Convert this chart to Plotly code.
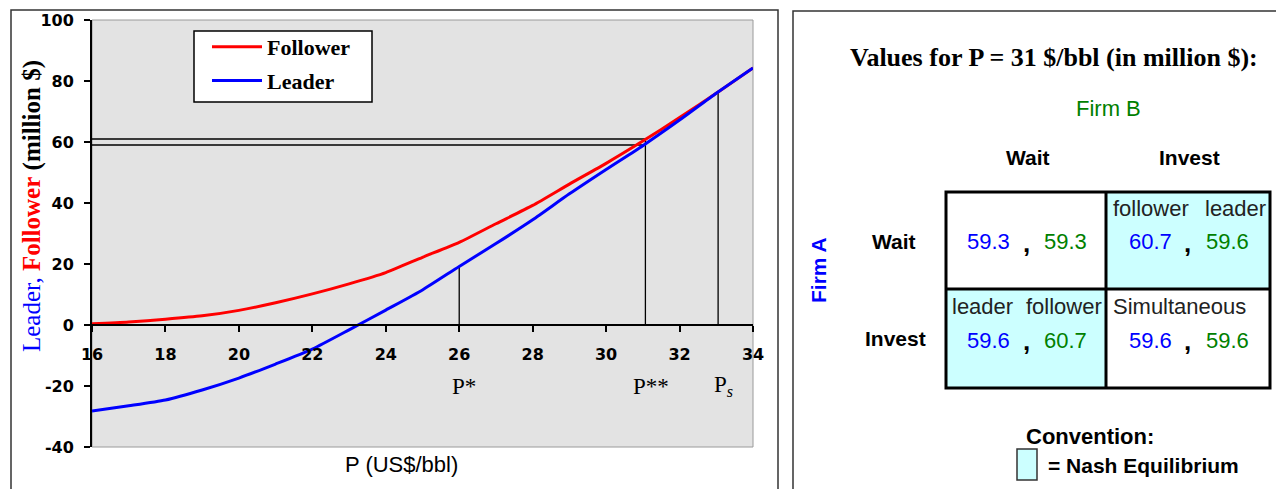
import plotly.graph_objects as go

# ---------------- data ----------------
price = [16, 17, 18, 19, 20, 21, 22, 23, 24, 25, 26, 27, 28, 29, 30, 31, 32, 33, 34]
follower = [0.4, 1.0, 1.9, 3.0, 4.8, 7.3, 10.2, 13.5, 17.2, 22.2, 27.1, 33.2, 39.2,
            46.2, 53.0, 60.3, 68.0, 76.0, 84.3]
leader = [-28.2, -26.5, -24.6, -21.3, -17.4, -12.8, -7.9, -1.6, 4.9, 11.5, 19.2, 26.7,
          34.5, 43.0, 51.0, 58.8, 67.2, 76.0, 84.3]

marker_names = ["P*", "P**", "P<sub><i>s</i></sub>"]
marker_prices = [26.0, 31.07, 33.05]
marker_tops = [19.3, 61.0, 76.2]
hline_values = [61.0, 59.0]

x_ticks = [16, 18, 20, 22, 24, 26, 28, 30, 32, 34]
y_ticks = [-40, -20, 0, 20, 40, 60, 80, 100]

table_values = {
    ("Wait", "Wait"): (59.3, 59.3),
    ("Wait", "Invest"): (60.7, 59.6),
    ("Invest", "Wait"): (59.6, 60.7),
    ("Invest", "Invest"): (59.6, 59.6),
}

# ---------------- geometry helpers ----------------
W, H = 1276, 489
def px(x):
    return x / W
def py(y):
    return 1 - y / H

x_dom = [px(92), px(753)]
y_dom = [py(447), py(20)]
y_rng = [-40, 100]
zero_pos = y_dom[0] + (y_dom[1] - y_dom[0]) * (0 - y_rng[0]) / (y_rng[1] - y_rng[0])

SERIF = "Liberation Serif"
SANS = "Liberation Sans"
BLUE = "#0000ff"
GREEN = "#008000"
RED = "#ff0000"
TICKFONT = dict(family="DejaVu Sans", size=16, color="black", weight="bold")

fig = go.Figure()

# reference lines
for v in hline_values:
    fig.add_trace(go.Scatter(x=[price[0], marker_prices[1]], y=[v, v], mode="lines",
                             line=dict(color="black", width=1.5), showlegend=False,
                             hoverinfo="skip"))
for xp, top in zip(marker_prices, marker_tops):
    fig.add_trace(go.Scatter(x=[xp, xp], y=[0, top], mode="lines",
                             line=dict(color="black", width=1.3), showlegend=False,
                             hoverinfo="skip"))

fig.add_trace(go.Scatter(x=price, y=follower, mode="lines", name="<b>Follower</b>",
                         line=dict(color=RED, width=3, shape="spline", smoothing=0.6),
                         legendgroup="f"))
fig.add_trace(go.Scatter(x=price, y=leader, mode="lines", name="<b>Leader</b>",
                         line=dict(color=BLUE, width=3, shape="spline", smoothing=0.6),
                         legendgroup="l"))

shapes = []
annotations = []

# outer frames
shapes.append(dict(type="rect", xref="paper", yref="paper", x0=px(11), x1=px(778),
                   y0=py(500), y1=py(10), line=dict(color="#333333", width=1.5)))
shapes.append(dict(type="rect", xref="paper", yref="paper", x0=px(793), x1=px(1285),
                   y0=py(500), y1=py(11), line=dict(color="#333333", width=1.5)))
# plot area border
shapes.append(dict(type="rect", xref="paper", yref="paper", x0=x_dom[0], x1=x_dom[1],
                   y0=y_dom[0], y1=y_dom[1], line=dict(color="#9a9a9a", width=1),
                   layer="below"))
# legend box
shapes.append(dict(type="rect", xref="paper", yref="paper", x0=px(194), x1=px(372),
                   y0=py(102), y1=py(31), fillcolor="white",
                   line=dict(color="black", width=1.5), layer="above"))

# y axis title (multi-coloured)
annotations.append(dict(
    xref="paper", yref="paper", x=px(32), y=py(206), textangle=-90, showarrow=False,
    xanchor="center", yanchor="middle",
    text=("<span style='color:#0000ff'>Leader,</span> "
          "<b><span style='color:#ff0000'>Follower</span></b> <b>(million $)</b>"),
    font=dict(family=SERIF, size=25, color="black")))
# x axis title
annotations.append(dict(xref="paper", yref="paper", x=px(401), y=py(464), showarrow=False,
                        xanchor="center", yanchor="middle",
                        text="P (US$/bbl)", font=dict(family=SANS, size=22, color="black")))
# P markers
for name, xp in zip(marker_names, marker_prices):
    annotations.append(dict(xref="x", yref="paper", x=xp + 0.14, y=py(386), showarrow=False,
                            xanchor="center", yanchor="middle",
                            text=name, font=dict(family=SERIF, size=23, color="black")))

# ---------------- right panel: game table ----------------
tx0, tx1, tmid = 946, 1270, 1106
ty0, ty1, tymid = 192, 388, 289
CYAN = "#ccffff"
shapes.append(dict(type="rect", xref="paper", yref="paper", x0=px(tmid), x1=px(tx1),
                   y0=py(tymid), y1=py(ty0), fillcolor=CYAN, line=dict(width=0)))
shapes.append(dict(type="rect", xref="paper", yref="paper", x0=px(tx0), x1=px(tmid),
                   y0=py(ty1), y1=py(tymid), fillcolor=CYAN, line=dict(width=0)))
shapes.append(dict(type="rect", xref="paper", yref="paper", x0=px(tx0), x1=px(tx1),
                   y0=py(ty1), y1=py(ty0), line=dict(color="black", width=3)))
shapes.append(dict(type="line", xref="paper", yref="paper", x0=px(tmid), x1=px(tmid),
                   y0=py(ty1), y1=py(ty0), line=dict(color="black", width=3)))
shapes.append(dict(type="line", xref="paper", yref="paper", x0=px(tx0), x1=px(tx1),
                   y0=py(tymid), y1=py(tymid), line=dict(color="black", width=3)))
# convention box
shapes.append(dict(type="rect", xref="paper", yref="paper", x0=px(1017), x1=px(1037),
                   y0=py(480), y1=py(449), fillcolor=CYAN,
                   line=dict(color="#333333", width=1.5)))

def txt(x, y, s, size=22, color="black", family=SANS, xanchor="center", angle=0):
    annotations.append(dict(xref="paper", yref="paper", x=px(x), y=py(y), text=s,
                            showarrow=False, xanchor=xanchor, yanchor="middle",
                            textangle=angle,
                            font=dict(family=family, size=size, color=color)))

txt(848, 57, "<b>Values for P = 31 $/bbl (in million $):</b>", size=26, family=SERIF,
    xanchor="left")
txt(1108, 108, "Firm B", size=22, color=GREEN)
txt(1028, 157, "<b>Wait</b>", size=21)
txt(1189, 157, "<b>Invest</b>", size=21)
txt(818, 270, "<b>Firm A</b>", size=21, color=BLUE, angle=-90)
txt(894, 241, "<b>Wait</b>", size=21)
txt(895, 338, "<b>Invest</b>", size=21)

row_y = {"Wait": 242, "Invest": 340}
col_x = {"Wait": (988, 1026, 1065), "Invest": (1150, 1187, 1227)}
for (r, c), (a, b) in table_values.items():
    xa, xc, xb = col_x[c]
    y = row_y[r]
    txt(xa, y, f"{a:.1f}", color=BLUE)
    txt(xc, y + 1, "<b>,</b>", size=26, color="black")
    txt(xb, y, f"{b:.1f}", color=GREEN)

GREY = "#222222"
txt(1111, 208, "follower", color=GREY, xanchor="left")
txt(1203, 208, "leader", color=GREY, xanchor="left")
txt(950, 306, "leader", color=GREY, xanchor="left")
txt(1024, 306, "follower", color=GREY, xanchor="left")
txt(1111, 306, "Simultaneous", color=GREY, xanchor="left")

txt(1090, 436, "<b>Convention:</b>", size=22)
txt(1046, 465, "<b>= Nash Equilibrium</b>", size=21, xanchor="left")

fig.update_layout(
    width=W, height=H,
    margin=dict(l=0, r=0, t=0, b=0, pad=0, autoexpand=False),
    paper_bgcolor="white",
    plot_bgcolor="#e3e3e3",
    shapes=shapes,
    annotations=annotations,
    showlegend=True,
    legend=dict(x=px(207), y=py(26), xanchor="left", yanchor="top",
                bgcolor="rgba(0,0,0,0)", borderwidth=0,
                traceorder="grouped", tracegroupgap=2, itemwidth=50,
                font=dict(family=SERIF, size=22, color="black")),
    xaxis=dict(domain=x_dom, range=[16, 34], tickvals=x_ticks,
               ticktext=[str(v) for v in x_ticks], anchor="free",
               position=zero_pos, showline=True, linecolor="black", linewidth=1.5,
               ticks="outside", ticklen=6, tickwidth=1.5, tickcolor="black",
               showgrid=False, zeroline=False, ticklabelstandoff=9, automargin=False,
               tickfont=TICKFONT),
    yaxis=dict(domain=y_dom, range=y_rng, tickvals=y_ticks,
               ticktext=[str(v) for v in y_ticks], showline=True,
               linecolor="black", linewidth=2, ticks="outside", ticklen=6, tickwidth=1.5,
               tickcolor="black", showgrid=False, zeroline=False, ticklabelstandoff=7,
               automargin=False, tickfont=TICKFONT),
)

fig.write_html("out.html", config={"displayModeBar": False},
               post_script="document.body.style.margin='0';document.body.style.overflow='hidden';")
